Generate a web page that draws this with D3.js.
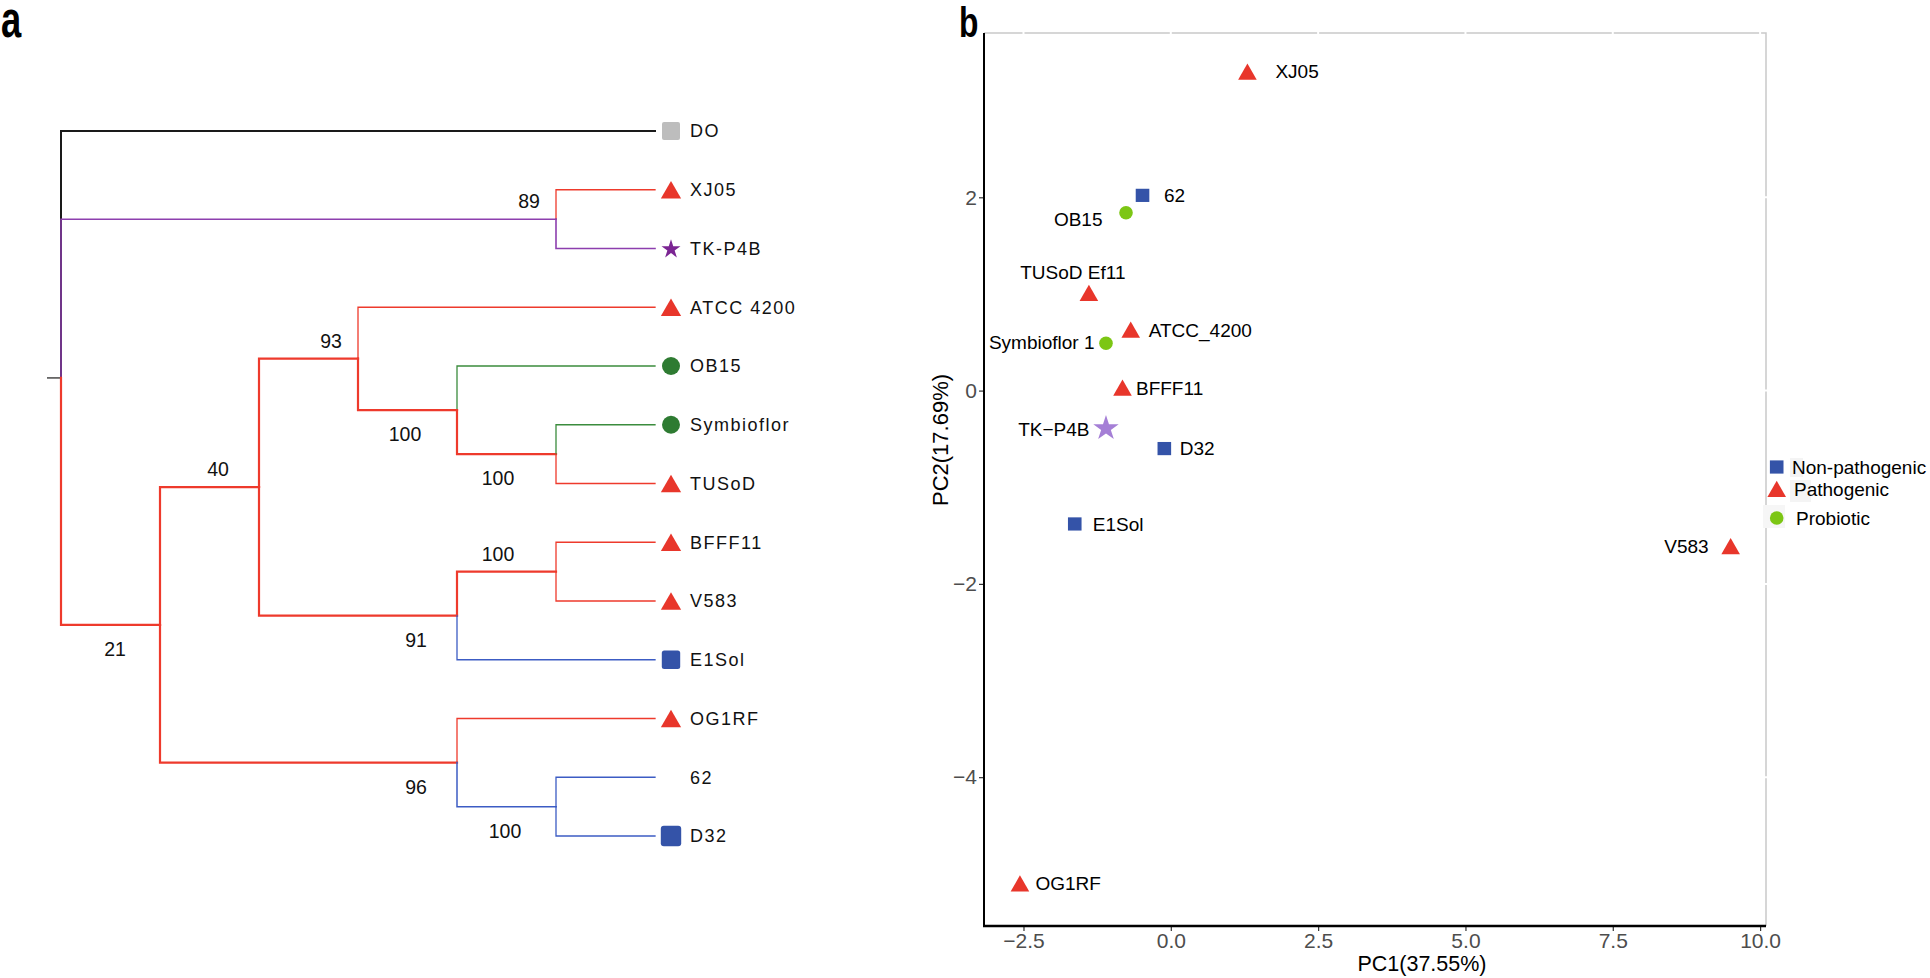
<!DOCTYPE html>
<html><head><meta charset="utf-8">
<script src="https://cdn.jsdelivr.net/npm/d3@7"></script>
<style>
html,body{margin:0;padding:0;background:#fff;}
svg{display:block;font-family:"Liberation Sans",Arial,Helvetica,sans-serif;}
</style>
</head><body>
<svg id="chart" width="1930" height="978"></svg>
<script>
// ================= DATA =================
// Panel a: tree topology (parent table), bootstrap support and branch classes
const nodeIds     = ["root","DO","n89","XJ05","TK-P4B","n21","n40","n93","ATCC 4200","n100a","OB15","n100b","Symbioflor","TUSoD","n91","n100c","BFFF11","V583","E1Sol","n96","OG1RF","n100d","62","D32"];
const nodeParents = ["","root","root","n89","n89","root","n21","n40","n93","n93","n100a","n100a","n100b","n100b","n40","n91","n100c","n100c","n91","n21","n96","n96","n100d","n100d"];
const nodeSupport = [null,null,89,null,null,21,40,93,null,100,null,100,null,null,91,100,null,null,null,96,null,100,null,null];
const branchType  = [null,"outgroup","tk","pathogenic","tk","pathogenic","pathogenic","pathogenic","pathogenic","pathogenic","probiotic","pathogenic","probiotic","pathogenic","pathogenic","pathogenic","pathogenic","pathogenic","nonpath","pathogenic","pathogenic","nonpath","nonpath","nonpath"];
const tipNames    = ["DO","XJ05","TK-P4B","ATCC 4200","OB15","Symbioflor","TUSoD","BFFF11","V583","E1Sol","OG1RF","62","D32"];
const tipTypes    = ["outgroup","pathogenic","tk","pathogenic","probiotic","probiotic","pathogenic","pathogenic","pathogenic","nonpath","pathogenic","none","nonpathL"];

// Panel b: PCA scores
const pcaNames = ["XJ05","62","OB15","TUSoD Ef11","ATCC_4200","Symbioflor 1","BFFF11","TK\u2212P4B","D32","E1Sol","V583","OG1RF"];
const pc1      = [1.30,-0.48,-0.76,-1.39,-0.68,-1.10,-0.82,-1.10,-0.11,-1.63,9.50,-2.56];
const pc2      = [3.30,2.02,1.84,1.01,0.63,0.49,0.03,-0.38,-0.60,-1.38,-1.61,-5.10];
const pcaGroup = ["Pathogenic","Non-pathogenic","Probiotic","Pathogenic","Pathogenic","Probiotic","Pathogenic","TK","Non-pathogenic","Non-pathogenic","Pathogenic","Pathogenic"];
const xTicks = [-2.5,0,2.5,5,7.5,10];
const yTicks = [-4,-2,0,2];
const legendLabels = ["Non-pathogenic","Pathogenic","Probiotic"];
const xTitle = "PC1(37.55%)";
const yTitle = "PC2(17.69%)";

// ================= STYLE =================
const RED = "#e8362b", BLUE = "#3453a8";
const branchColor = {outgroup:"#1a1a1a", tk:"#8d3fae", pathogenic:"#ee3a2c", probiotic:"#3b8c3d", nonpath:"#3c5cc4"};
const FONT = '"Liberation Sans",Arial,Helvetica,sans-serif';

const svg = d3.select("#chart");

// panel letters
svg.append("text").attr("transform","translate(1,37) scale(0.7,1)")
  .attr("font-size",52).attr("font-weight","bold").attr("fill","#000").text("a");
svg.append("text").attr("transform","translate(959,37) scale(0.74,1)")
  .attr("font-size",43).attr("font-weight","bold").attr("fill","#000").text("b");

// ================= PANEL A: TREE =================
const table = nodeIds.map((id,i)=>({id, parent: nodeParents[i] || null, support: nodeSupport[i], btype: branchType[i]}));
const root = d3.stratify().id(d=>d.id).parentId(d=>d.parent)(table);

const leaves = root.leaves();
const tipIndex = new Map(leaves.map((l,i)=>[l.id,i]));
const xTree = d3.scaleLinear().domain([root.height,0]).range([61,655]);
const yTree = d3.scaleLinear().domain([0,leaves.length-1]).range([131,836]);

root.eachAfter(n=>{
  n.px = xTree(n.height);
  if(!n.children) n.py = yTree(tipIndex.get(n.id));
  else n.py = (n.children[0].py + n.children[n.children.length-1].py)/2;
});

const gTree = svg.append("g");
// root tick
gTree.append("line").attr("x1",47).attr("x2",root.px).attr("y1",root.py).attr("y2",root.py)
  .attr("stroke","#1a1a1a").attr("stroke-width",1.2);

root.descendants().filter(n=>n.parent).forEach(n=>{
  const p = n.parent;
  const t = n.data.btype;
  let w = 1.3;
  if(t==="outgroup") w = 2;
  else if(n.children && t==="pathogenic") w = 2.2;
  else if(n.children) w = 1.5;
  else if(t==="tk") w = 1.6;
  gTree.append("path")
    .attr("d",`M${p.px},${p.py}V${n.py}H${n.px}`)
    .attr("fill","none").attr("stroke",branchColor[t]).attr("stroke-width",w)
    .attr("stroke-linejoin","miter").attr("stroke-linecap","square");
});

// support labels (position relative to node; layout only)
const supportPlace = {n89:[-27,"above"], n93:[-27,"above"], n100a:[-52,"below"], n100b:[-58,"below"],
  n40:[-41,"above"], n100c:[-58,"above"], n91:[-41,"below"], n21:[-45,"below"], n96:[-41,"below"], n100d:[-51,"below"]};
root.descendants().filter(n=>n.data.support!=null).forEach(n=>{
  const pl = supportPlace[n.id];
  gTree.append("text").attr("x",n.px+pl[0]).attr("y", pl[1]==="above" ? n.py-11 : n.py+31)
    .attr("text-anchor","middle").attr("font-size",19.5).attr("fill","#111").text(n.data.support);
});

// tip markers + labels
const markerX = 671, labelX = 690;
tipNames.forEach((name,i)=>{
  const n = leaves[tipIndex.get(name)];
  const y = n.py, t = tipTypes[i];
  const g = gTree.append("g").attr("transform",`translate(${markerX},${y})`);
  if(t==="outgroup") g.append("rect").attr("x",-9).attr("y",-9).attr("width",18).attr("height",18).attr("rx",2).attr("fill","#bdbdbd");
  else if(t==="pathogenic") g.append("path").attr("transform","translate(0,3)").attr("d",d3.symbol(d3.symbolTriangle,178)()).attr("fill",RED);
  else if(t==="tk") g.append("path").attr("transform","translate(0,0.8)").attr("d",d3.symbol(d3.symbolStar,112)()).attr("fill","#7b2593");
  else if(t==="probiotic") g.append("circle").attr("r",9).attr("fill","#2e7b32");
  else if(t==="nonpath") g.append("rect").attr("x",-9.2).attr("y",-9.2).attr("width",18.4).attr("height",18.4).attr("rx",2.5).attr("fill",BLUE);
  else if(t==="nonpathL") g.append("rect").attr("x",-10.2).attr("y",-10.2).attr("width",20.4).attr("height",20.4).attr("rx",3).attr("fill",BLUE);
  gTree.append("text").attr("x",labelX).attr("y",y).attr("dy","0.36em")
    .attr("font-size",18).attr("letter-spacing","1.5px").attr("fill","#111").text(name);
});

// ================= PANEL B: PCA =================
const L = 984, R = 1766, T = 33, B = 926;
const xS = d3.scaleLinear().domain([-3.17,10.1]).range([L,R]);
const yS = d3.scaleLinear().domain([-5.54,3.70]).range([B,T]);
const gP = svg.append("g");

// gray panel border (top/right)
gP.append("path").attr("d",`M${L},${T}H${R}V${B}`).attr("fill","none").attr("stroke","#c9c9c9").attr("stroke-width",1.5);
// white major grid lines (show as gaps in the border)
xTicks.forEach(v=>gP.append("line").attr("x1",xS(v)).attr("x2",xS(v)).attr("y1",T-2).attr("y2",B).attr("stroke","#fff").attr("stroke-width",2));
yTicks.forEach(v=>gP.append("line").attr("x1",L).attr("x2",R+2).attr("y1",yS(v)).attr("y2",yS(v)).attr("stroke","#fff").attr("stroke-width",2));

// axes
const xAxis = d3.axisBottom(xS).tickValues(xTicks).tickFormat(d3.format(".1f")).tickSize(5).tickPadding(2);
const yAxis = d3.axisLeft(yS).tickValues(yTicks).tickFormat(d3.format("d")).tickSize(5).tickPadding(2);
const gx = gP.append("g").attr("transform",`translate(0,${B})`).call(xAxis);
const gy = gP.append("g").attr("transform",`translate(${L},0)`).call(yAxis);
[gx,gy].forEach(g=>{
  g.select(".domain").remove();
  g.selectAll(".tick line").attr("stroke","#333").attr("stroke-width",1.2);
  g.selectAll(".tick text").attr("font-size",21).attr("fill","#4d4d4d").attr("font-family",FONT);
});
gP.append("line").attr("x1",L).attr("x2",L).attr("y1",T).attr("y2",B+1).attr("stroke","#000").attr("stroke-width",2);
gP.append("line").attr("x1",L-1).attr("x2",R).attr("y1",B).attr("y2",B).attr("stroke","#000").attr("stroke-width",2.6);

// axis titles
gP.append("text").attr("x",1422).attr("y",971).attr("text-anchor","middle").attr("font-size",21.5).attr("fill","#000").text(xTitle);
gP.append("text").attr("transform","translate(948,440) rotate(-90)").attr("text-anchor","middle").attr("font-size",22).attr("fill","#000").text(yTitle);

// marker drawer
function pcaMarker(g, grp){
  if(grp==="Pathogenic") g.append("path").attr("transform","translate(0,2.6)").attr("d",d3.symbol(d3.symbolTriangle,150)()).attr("fill",RED);
  else if(grp==="Non-pathogenic") g.append("rect").attr("x",-6.8).attr("y",-6.6).attr("width",13.6).attr("height",13.2).attr("fill",BLUE);
  else if(grp==="Probiotic") g.append("circle").attr("r",6.8).attr("fill","#7cc614");
  else if(grp==="TK") g.append("path").attr("transform","translate(0,1)").attr("d",d3.symbol(d3.symbolStar,200)()).attr("fill","#a57fd6");
}

// label offsets (layout only): [dx, dy, anchor]
const labelPlace = {
  "XJ05":[28,0,"start"], "62":[21.5,0,"start"], "OB15":[-23.5,6,"end"], "TUSoD Ef11":[-16,-21,"middle"],
  "ATCC_4200":[18,0,"start"], "Symbioflor 1":[-11.5,-1,"end"], "BFFF11":[13.5,0,"start"], "TK\u2212P4B":[-16.5,2,"end"],
  "D32":[15.5,0,"start"], "E1Sol":[18,0,"start"], "V583":[-22,0,"end"], "OG1RF":[15.5,0,"start"]
};
pcaNames.forEach((name,i)=>{
  const x = xS(pc1[i]), y = yS(pc2[i]);
  const g = gP.append("g").attr("transform",`translate(${x},${y})`);
  pcaMarker(g, pcaGroup[i]);
  const pl = labelPlace[name];
  gP.append("text").attr("x",x+pl[0]).attr("y",y+pl[1]).attr("dy","0.36em").attr("text-anchor",pl[2])
    .attr("font-size",19).attr("fill","#000").text(name);
});

// legend
const legY = [467, 489, 518], legTextX = [1792, 1794, 1796];
const lg = gP.append("g");
lg.append("rect").attr("x",1790).attr("y",458).attr("width",13).attr("height",19).attr("fill","#f4f4f4");
lg.append("rect").attr("x",1790).attr("y",480).attr("width",21).attr("height",22).attr("fill","#f4f4f4");
lg.append("rect").attr("x",1763).attr("y",505).attr("width",22).attr("height",23).attr("fill","#f6f6f6");
legendLabels.forEach((lab,i)=>{
  const g = lg.append("g").attr("transform",`translate(1776.7,${legY[i]})`);
  pcaMarker(g, lab);
  lg.append("text").attr("x",legTextX[i]).attr("y",legY[i]).attr("dy","0.36em").attr("font-size",19).attr("fill","#000").text(lab);
});
</script>
</body></html>
